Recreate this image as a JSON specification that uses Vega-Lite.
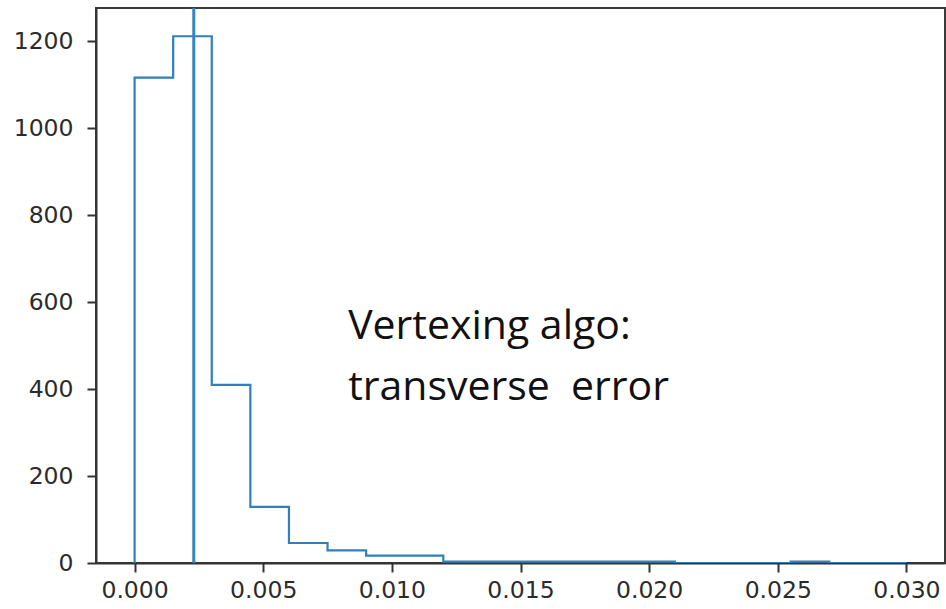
{
  "$schema": "https://vega.github.io/schema/vega-lite/v6.json",
  "width": 849,
  "height": 555,
  "autosize": {"type": "none"},
  "padding": {"left": 96, "top": 8, "right": 1, "bottom": 46},
  "background": "white",
  "config": {
    "view": {"stroke": "#3a3a3a", "strokeWidth": 2},
    "axis": {
      "domainColor": "#333333",
      "domainWidth": 2,
      "tickColor": "#333333",
      "tickWidth": 2,
      "tickSize": 9,
      "labelFont": "DejaVu Sans",
      "labelFontSize": 23.5,
      "labelColor": "#2b2b2b",
      "grid": false,
      "title": null
    }
  },
  "datasets": {
    "edges": [
      {"edge": 0.0, "count": 0},
      {"edge": 0.0, "count": 1117},
      {"edge": 0.0015, "count": 1212},
      {"edge": 0.003, "count": 410},
      {"edge": 0.0045, "count": 129},
      {"edge": 0.006, "count": 46},
      {"edge": 0.0075, "count": 29},
      {"edge": 0.009, "count": 17},
      {"edge": 0.0105, "count": 17},
      {"edge": 0.012, "count": 3},
      {"edge": 0.0135, "count": 3},
      {"edge": 0.015, "count": 3},
      {"edge": 0.0165, "count": 3},
      {"edge": 0.018, "count": 3},
      {"edge": 0.0195, "count": 3},
      {"edge": 0.021, "count": 0},
      {"edge": 0.0225, "count": 0},
      {"edge": 0.024, "count": 0},
      {"edge": 0.0255, "count": 3},
      {"edge": 0.027, "count": 0},
      {"edge": 0.0285, "count": 0},
      {"edge": 0.03, "count": 0}
    ],
    "marker": [{"value": 0.0023}],
    "note": [
      {"label": "Vertexing algo:", "x": 0.0083, "y": 515},
      {"label": "transverse \u00a0error", "x": 0.0083, "y": 375}
    ]
  },
  "layer": [
    {
      "data": {"name": "edges"},
      "mark": {"type": "line", "interpolate": "step-after", "color": "#2f80bd", "strokeWidth": 2.2, "clip": true},
      "encoding": {
        "x": {
          "field": "edge",
          "type": "quantitative",
          "scale": {"domain": [-0.0015, 0.0315], "nice": false, "zero": false},
          "axis": {"values": [0, 0.005, 0.01, 0.015, 0.02, 0.025, 0.03], "format": ".3f", "labelPadding": 6}
        },
        "y": {
          "field": "count",
          "type": "quantitative",
          "scale": {"domain": [0, 1277], "nice": false},
          "axis": {"values": [0, 200, 400, 600, 800, 1000, 1200], "format": "d", "labelPadding": 14}
        }
      }
    },
    {
      "data": {"name": "marker"},
      "mark": {"type": "rule", "color": "#3585c0", "strokeWidth": 3},
      "encoding": {"x": {"field": "value", "type": "quantitative"}}
    },
    {
      "data": {"name": "note"},
      "mark": {"type": "text", "align": "left", "baseline": "alphabetic", "font": "Open Sans", "fontSize": 41, "color": "#111111"},
      "encoding": {
        "x": {"field": "x", "type": "quantitative"},
        "y": {"field": "y", "type": "quantitative"},
        "text": {"field": "label"}
      }
    }
  ]
}
